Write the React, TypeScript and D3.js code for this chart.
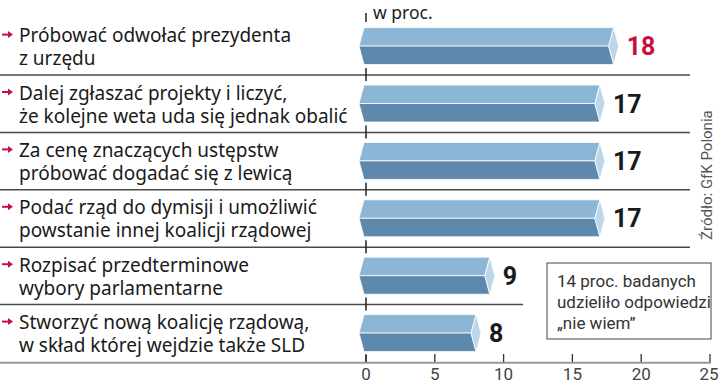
import * as d3 from "d3";

const labels: string[][] = [
  ["Próbować odwołać prezydenta", "z urzędu"],
  ["Dalej zgłaszać projekty i liczyć,", "że kolejne weta uda się jednak obalić"],
  ["Za cenę znaczących ustępstw", "próbować dogadać się z lewicą"],
  ["Podać rząd do dymisji i umożliwić", "powstanie innej koalicji rządowej"],
  ["Rozpisać przedterminowe", "wybory parlamentarne"],
  ["Stworzyć nową koalicję rządową,", "w skład której wejdzie także SLD"],
];
const values = [18, 17, 17, 17, 9, 8];
const ticks = [0, 5, 10, 15, 20, 25];
const noteLines = ["14 proc. badanych", "udzieliło odpowiedzi", "„nie wiem”"];
const unitLabel = "w proc.";
const source = "Źródło: GfK Polonia";

const W = 720;
const H = 384;
const RED = "#c8103e";
const LIGHT = "#8cb6d6";
const DARK = "#5e89ad";
const CAP = "#bdd7ea";
const SANS = "'Noto Sans', 'Open Sans', sans-serif";
const NARROW = "'Liberation Sans Narrow', 'Roboto', sans-serif";

export default function App() {
  const x = d3.scaleLinear().domain([0, 25]).range([366, 710]);
  const y = d3
    .scaleBand<number>()
    .domain(d3.range(values.length))
    .range([17.6, 362])
    .paddingInner(0);
  const bw = y.bandwidth();

  // bar prism: light upper face, dark lower face, pale end cap
  const barParts = (v: number, top: number) => {
    const t = top + 10;
    const b = top + 47;
    const m = (t + b) / 2;
    const L = x(0) - 7;
    const xv = x(v);
    const c = 5;
    return {
      upper: `M${L + 5},${t}L${xv},${t}L${xv - c},${m}L${L},${m}Z`,
      lower: `M${L},${m}L${xv - c},${m}L${xv},${b}L${L + 5},${b}Z`,
      cap: `M${xv},${t}L${xv + c},${m}L${xv},${b}L${xv - c},${m}Z`,
    };
  };

  return (
    <svg
      width={W}
      height={H}
      style={{ position: "absolute", left: 0, top: 0, background: "#fff" }}
    >
      {/* unit label */}
      <text x={373} y={19} fontFamily={SANS} fontSize={17.5} fill="#222">
        {unitLabel}
      </text>
      <line x1={x(0)} x2={x(0)} y1={13} y2={22} stroke="#222" strokeWidth={1.5} />

      {values.map((v, i) => {
        const top = y(i)!;
        const sep = top + bw;
        const p = barParts(v, top);
        const sepEnd = i === 4 ? 523 : 690;
        return (
          <g key={i}>
            {/* bullet arrow */}
            <line x1={2} x2={9} y1={top + 17} y2={top + 17} stroke={RED} strokeWidth={2} />
            <path d={`M8,${top + 13.5}L13,${top + 17}L8,${top + 20.5}Z`} fill={RED} />
            {labels[i].map((ln, k) => (
              <text
                key={k}
                x={19}
                y={top + 24.5 + k * 23}
                fontFamily={SANS}
                fontSize={19}
                fill="#1a1a1a"
              >
                {ln}
              </text>
            ))}
            <path d={p.upper} fill={LIGHT} stroke="#fff" strokeWidth={0.8} />
            <path d={p.lower} fill={DARK} stroke="#fff" strokeWidth={0.8} />
            <path d={p.cap} fill={CAP} stroke="#fff" strokeWidth={0.8} />
            <text
              x={x(v) + 13}
              y={top + 37.5}
              fontFamily="Roboto, sans-serif"
              fontWeight={700}
              fontSize={25}
              fill={i === 0 ? RED : "#1a1a1a"}
            >
              {v}
            </text>
            {i < values.length - 1 && (
              <line x1={0} x2={sepEnd} y1={sep} y2={sep} stroke="#4a4a4a" strokeWidth={1.5} />
            )}
            <line
              x1={x(0)}
              x2={x(0)}
              y1={sep - 7}
              y2={sep + (i < values.length - 1 ? 6 : 0)}
              stroke="#222"
              strokeWidth={1.5}
            />
          </g>
        );
      })}

      {/* bottom axis */}
      <line x1={0} x2={711} y1={362.7} y2={362.7} stroke="#999" strokeWidth={2} />
      {ticks.map((t) => (
        <g key={t}>
          <line x1={x(t)} x2={x(t)} y1={354} y2={362} stroke="#333" strokeWidth={1.3} />
          <text
            x={t === 25 ? x(t) - 1 : x(t)}
            y={380}
            textAnchor="middle"
            fontFamily={NARROW}
            fontSize={17}
            fill="#444"
          >
            {t}
          </text>
        </g>
      ))}

      {/* note box */}
      <rect x={547} y={263} width={164} height={76} fill="#fff" stroke="#444" strokeWidth={1} />
      {noteLines.map((ln, k) => (
        <text key={k} x={557} y={287 + k * 21} fontFamily={NARROW} fontSize={17} fill="#333">
          {ln}
        </text>
      ))}

      {/* source */}
      <text
        transform="translate(712,240) rotate(-90)"
        fontFamily={NARROW}
        fontSize={15}
        fill="#555"
      >
        {source}
      </text>
    </svg>
  );
}
